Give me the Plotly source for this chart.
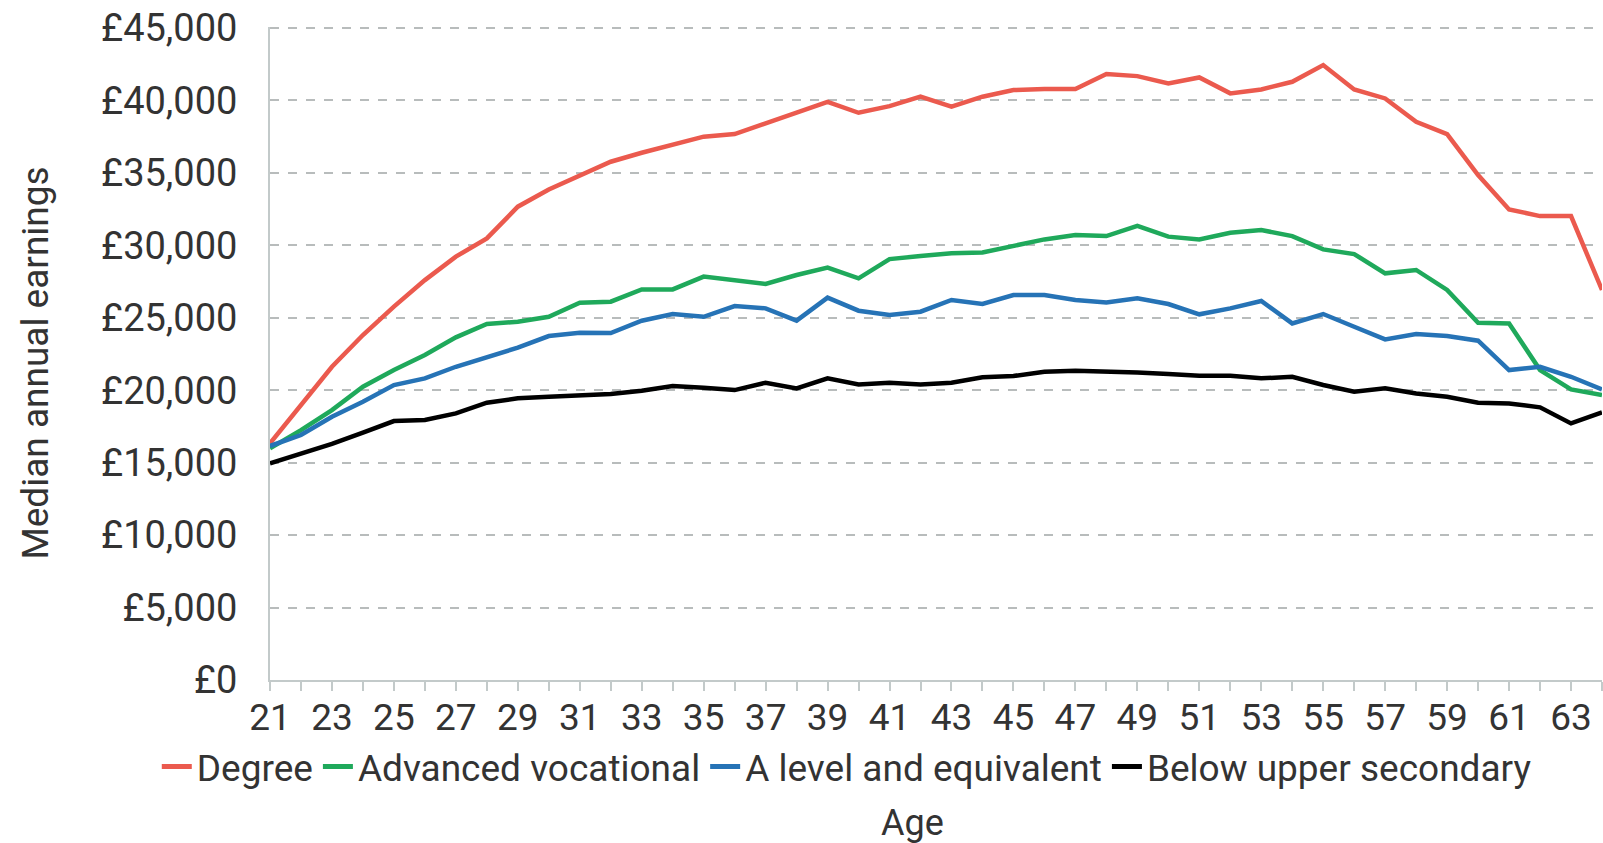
import plotly.graph_objects as go

ages = list(range(21, 65))

degree = [16.33, 18.98, 21.62, 23.81, 25.77, 27.60, 29.22, 30.48, 32.67, 33.86,
          34.85, 35.77, 36.39, 36.92, 37.50, 37.68, 38.42, 39.18, 39.91, 39.15,
          39.61, 40.26, 39.57, 40.26, 40.72, 40.79, 40.79, 41.82, 41.68, 41.18,
          41.59, 40.49, 40.76, 41.29, 42.44, 40.76, 40.14, 38.53, 37.68, 34.85,
          32.48, 32.02, 32.02, 26.92]
advanced_vocational = [15.99, 17.25, 18.63, 20.24, 21.39, 22.43, 23.65, 24.57, 24.73, 25.07,
                       26.04, 26.11, 26.96, 26.96, 27.84, 27.56, 27.33, 27.95, 28.46, 27.72,
                       29.05, 29.26, 29.45, 29.51, 29.95, 30.41, 30.71, 30.64, 31.35, 30.60,
                       30.41, 30.87, 31.06, 30.64, 29.72, 29.40, 28.07, 28.30, 26.92, 24.66,
                       24.61, 21.39, 20.06, 19.67]
a_level = [16.15, 16.91, 18.17, 19.21, 20.36, 20.82, 21.62, 22.25, 22.94, 23.74,
           23.97, 23.95, 24.80, 25.26, 25.07, 25.81, 25.65, 24.80, 26.39, 25.49,
           25.19, 25.42, 26.23, 25.95, 26.57, 26.57, 26.23, 26.06, 26.34, 25.95,
           25.24, 25.65, 26.16, 24.61, 25.26, 24.38, 23.51, 23.88, 23.74, 23.42,
           21.39, 21.62, 20.93, 20.06]
below_upper_secondary = [14.95, 15.64, 16.29, 17.07, 17.87, 17.94, 18.40, 19.14, 19.44, 19.55,
                         19.65, 19.74, 19.97, 20.29, 20.17, 20.01, 20.52, 20.13, 20.82, 20.40,
                         20.52, 20.40, 20.52, 20.89, 20.98, 21.28, 21.35, 21.30, 21.23, 21.12,
                         21.00, 21.00, 20.82, 20.93, 20.36, 19.90, 20.13, 19.78, 19.55, 19.14,
                         19.09, 18.82, 17.71, 18.47]

series_names = ["Degree", "Advanced vocational", "A level and equivalent", "Below upper secondary"]
series_values = [degree, advanced_vocational, a_level, below_upper_secondary]
series_colors = ["#EB5A4E", "#1FA95B", "#2673B6", "#000000"]

x_title = "Age"
y_title = "Median annual earnings"

FONT = "Roboto"
TEXT = "#333333"

fig = go.Figure()
for name, vals, col in zip(series_names, series_values, series_colors):
    fig.add_trace(go.Scatter(
        x=ages, y=[v * 1000 for v in vals], name=name, mode="lines",
        line=dict(color=col, width=4.5),
    ))

fig.update_layout(
    width=1603, height=843,
    margin=dict(l=270, r=1, t=27, b=163),
    paper_bgcolor="white", plot_bgcolor="white",
    font=dict(family=FONT, size=38, color=TEXT),
    showlegend=True,
    legend=dict(
        orientation="h", x=-0.085, xanchor="left", y=-0.133, yanchor="middle",
        font=dict(family=FONT, size=37, color=TEXT),
        tracegroupgap=0, itemsizing="constant",
        bgcolor="rgba(0,0,0,0)",
    ),
    annotations=[
        dict(text=x_title, xref="paper", yref="paper", x=0.482, y=-0.219,
             xanchor="center", yanchor="middle", showarrow=False,
             font=dict(family=FONT, size=36, color=TEXT)),
        dict(text=y_title, xref="paper", yref="paper", x=-0.1757, y=0.486,
             xanchor="center", yanchor="middle", showarrow=False, textangle=-90,
             font=dict(family=FONT, size=37, color=TEXT)),
    ],
)

fig.update_xaxes(
    range=[21, 64], tick0=21, dtick=2,
    showgrid=False, zeroline=False,
    showline=True, linecolor="#C3CACA", linewidth=2,
    ticks="outside", ticklen=9, tickcolor="#C3CACA", tickwidth=1.5,
    minor=dict(dtick=1, tick0=21, ticks="outside", ticklen=9, tickcolor="#C3CACA", tickwidth=1.5),
    tickfont=dict(family=FONT, size=37, color=TEXT),
    ticklabelstandoff=-5,
)

fig.update_yaxes(
    range=[0, 45070], dtick=5000, tick0=0,
    tickprefix="£", tickformat=",",
    showgrid=True, gridcolor="#B8BCBC", gridwidth=2, griddash="dash",
    zeroline=False,
    showline=True, linecolor="#C3CACA", linewidth=2,
    ticks="", ticklabelstandoff=23,
    tickfont=dict(family=FONT, size=38, color=TEXT),
)

fig.write_html(
    "out.html",
    config={"displayModeBar": False},
    post_script="document.body.style.margin='0';document.body.style.overflow='hidden';",
)
